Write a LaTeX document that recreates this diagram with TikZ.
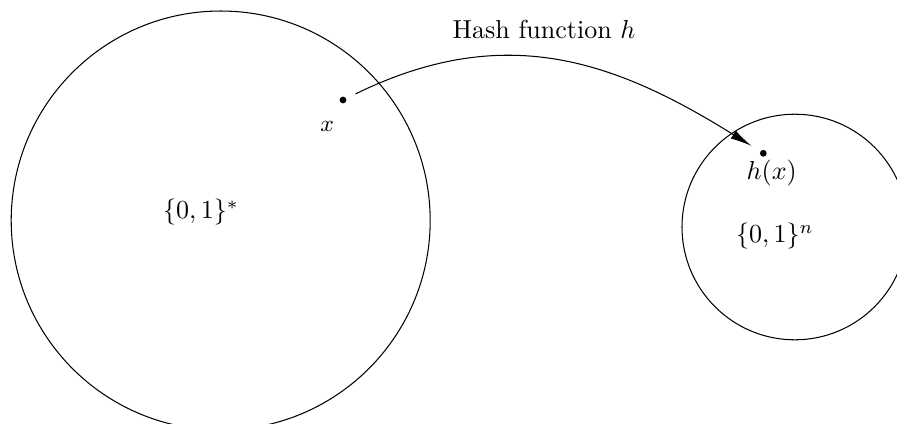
\documentclass[tikz,border=0pt]{standalone}
\usetikzlibrary{arrows.meta}
\begin{document}
\begin{tikzpicture}[x=0.3846pt,y=0.3846pt,
  setcircle/.style={draw,line width=0.4pt},
  dotnode/.style={circle,fill=black,inner sep=0pt,minimum size=2.6pt,outer sep=4.1pt},
  maplabel/.style={inner sep=0pt},
  hasharrow/.style={-{Latex[length=8.2pt,width=3.6pt]},line width=0.4pt}]
\useasboundingbox (0,0) rectangle (897,-423);
\draw[setcircle] (220.7,-220.5) circle[radius=209.5];
\draw[setcircle] (794.8,-227) circle[radius=112.8];
\node[maplabel] (dom) at (201,-212) {$\{0,1\}^*$};
\node[maplabel] (cod) at (775,-236) {$\{0,1\}^n$};
\node[dotnode] (xdot) at (343,-100) {};
\node[maplabel] (xlab) at (327.3,-126) {\small $x$};
\node[dotnode] (hdot) at (763.3,-153.3) {};
\node[maplabel] (hlab) at (771.7,-173) {$h(x)$};
\node[maplabel] (hash) at (544,-29) {Hash function $h$};
\draw[hasharrow] (xdot) to[out=26,in=148,looseness=1.05] (hdot);
\end{tikzpicture}
\end{document}
